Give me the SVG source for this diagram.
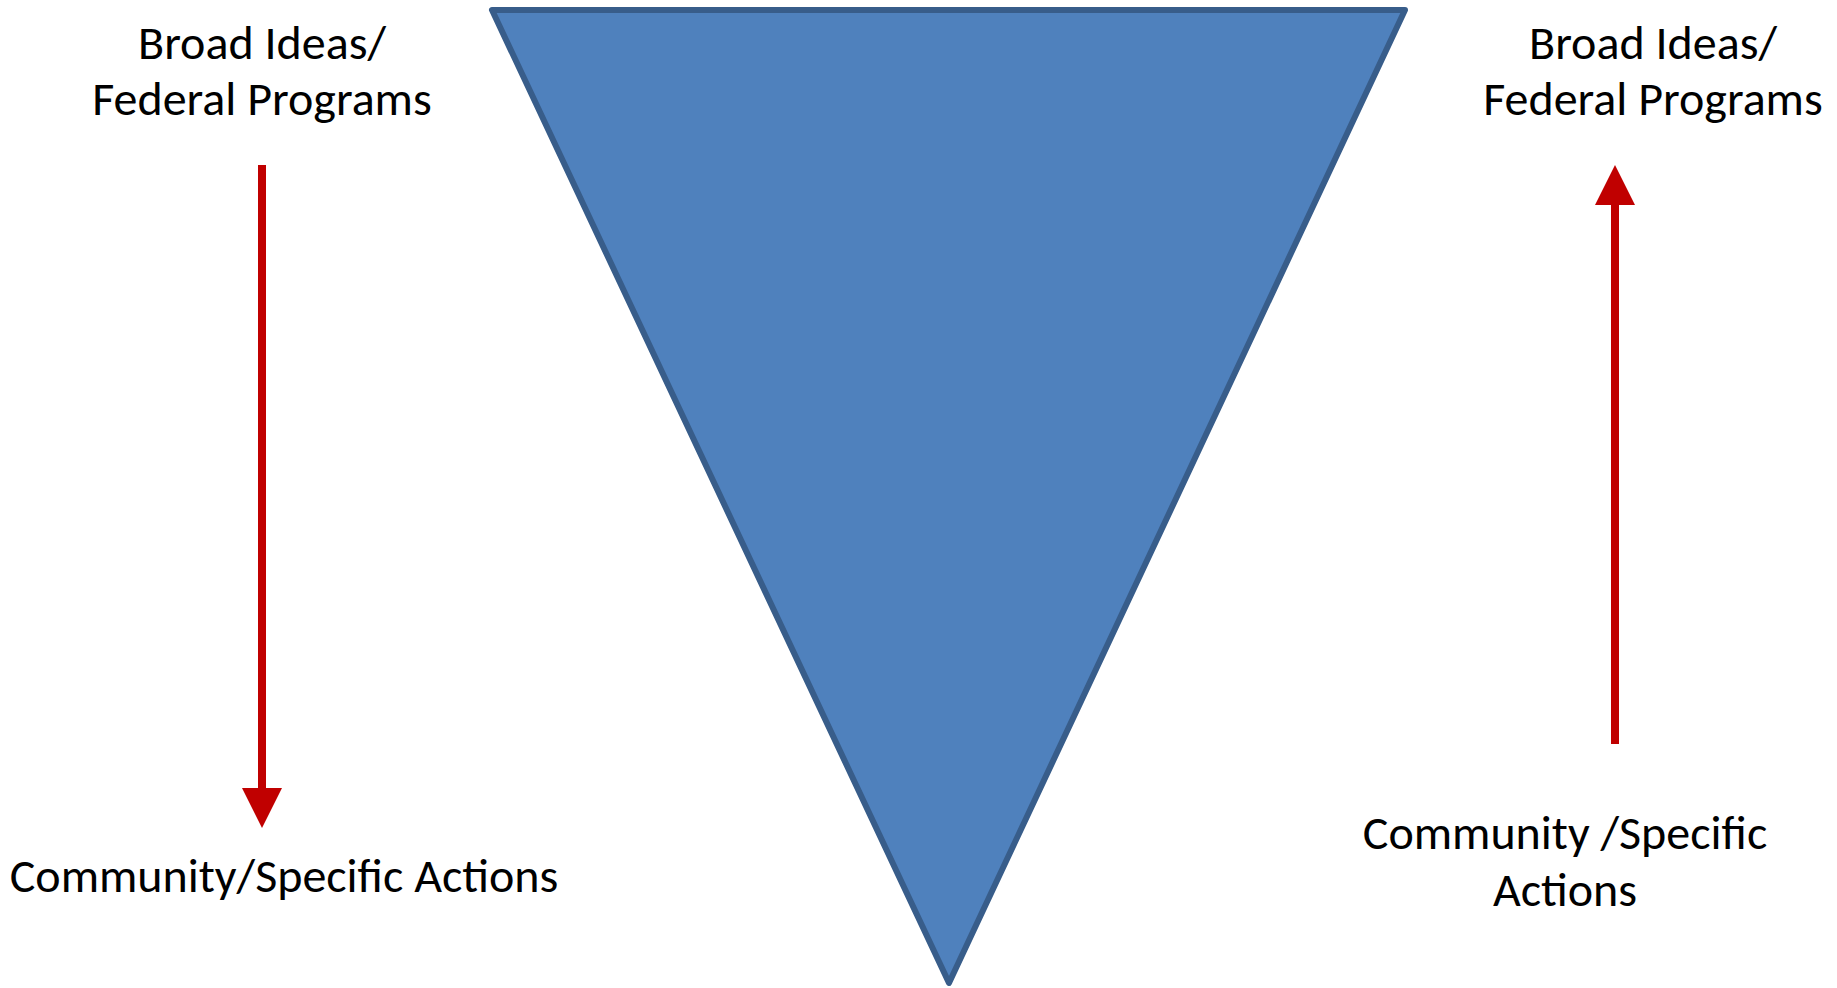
<svg xmlns="http://www.w3.org/2000/svg" width="1837" height="988" viewBox="0 0 1837 988">
<style>
.lbl{font-family:Carlito,Lato,"Open Sans",sans-serif;font-size:48px;fill:#000;text-anchor:middle}
.arr{stroke:#C00000;stroke-width:8;fill:none}
.head{fill:#C00000}
</style>
<rect width="1837" height="988" fill="#fff"/>
<g id="funnel">
<polygon points="492,10 1405,10 949,983" fill="#4F81BD" stroke="#385D8A" stroke-width="6" stroke-linejoin="round"/>
</g>
<g id="left-top">
<text class="lbl" x="262" y="59">Broad Ideas/</text>
<text class="lbl" x="262" y="115">Federal Programs</text>
</g>
<g id="left-bottom">
<text class="lbl" x="284" y="892">Community/Specific Actions</text>
</g>
<g id="right-top">
<text class="lbl" x="1653" y="59">Broad Ideas/</text>
<text class="lbl" x="1653" y="115">Federal Programs</text>
</g>
<g id="right-bottom">
<text class="lbl" x="1565" y="849">Community /Specific</text>
<text class="lbl" x="1565" y="906">Actions</text>
</g>
<g id="connectors">
<line class="arr" x1="262" y1="165" x2="262" y2="790"/>
<polygon class="head" points="242,788 282,788 262,828"/>
<line class="arr" x1="1615" y1="744" x2="1615" y2="203"/>
<polygon class="head" points="1595,205 1635,205 1615,165"/>
</g>
</svg>
